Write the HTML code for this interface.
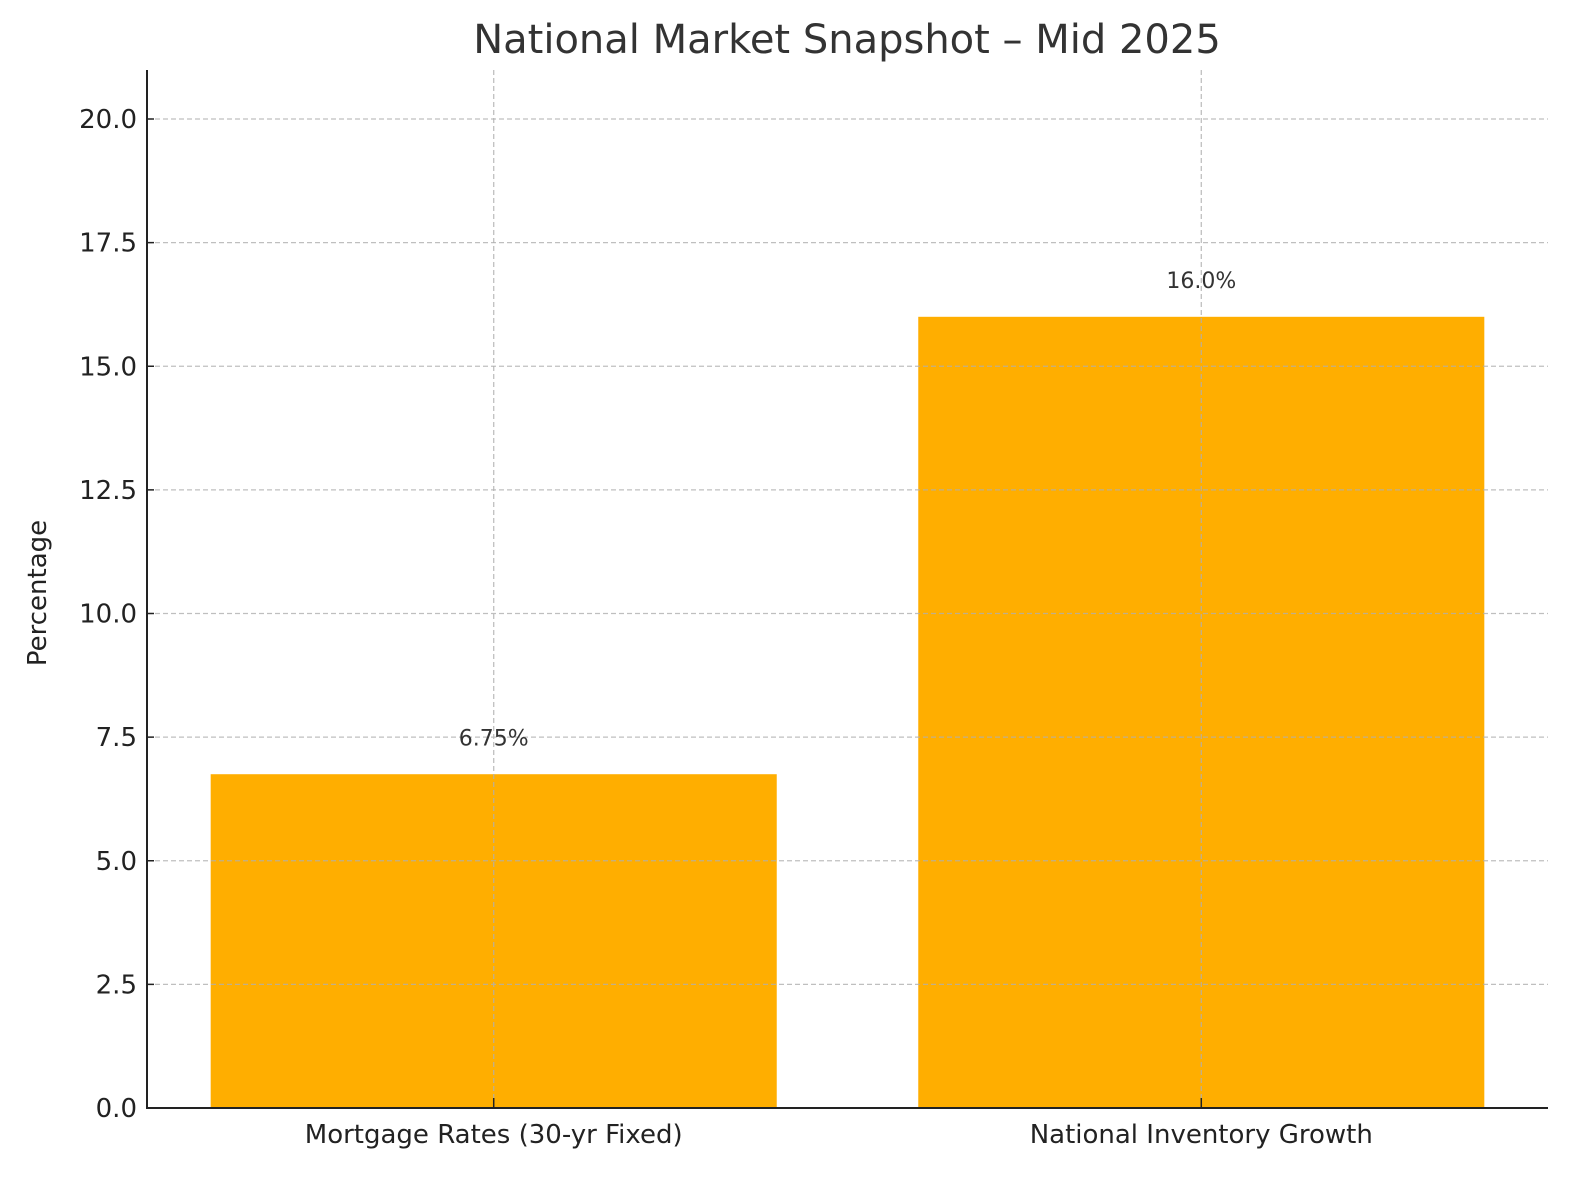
<!DOCTYPE html>
<html><head><meta charset="utf-8"><style>body{margin:0;background:#fff}svg{display:block;font-family:"DejaVu Sans","Liberation Sans",sans-serif}</style></head>
<body>
<svg id="chart" width="1580" height="1180" viewBox="0 0 1580 1180"></svg>
<script>
const categories = ["Mortgage Rates (30-yr Fixed)", "National Inventory Growth"];
const values = [6.75, 16.0];
const valueLabels = ["6.75%", "16.0%"];
const yTicks = [0, 2.5, 5, 7.5, 10, 12.5, 15, 17.5, 20];
const yTickLabels = ["0.0","2.5","5.0","7.5","10.0","12.5","15.0","17.5","20.0"];

const L=147,R=1548,B=1108,T=70;
const yMax=(B-T)/49.45;
const y=v=>B-v*(B-T)/yMax;
const xMin=-0.49,xMax=1.49;
const x=i=>L+(i-xMin)*(R-L)/(xMax-xMin);
const bw=0.8;
const svg=document.getElementById('chart');
const NS='http://www.w3.org/2000/svg';
function mk(tag,attrs,parent){const e=document.createElementNS(NS,tag);for(const k in attrs)e.setAttribute(k,attrs[k]);(parent||svg).appendChild(e);return e;}

// bars
values.forEach((v,i)=>{
  const r=mk('rect',{x:x(i-bw/2),y:y(v),width:x(i+bw/2)-x(i-bw/2),height:B-y(v),fill:'#ffae00'});
  
  
});
// grid
yTicks.forEach(t=>{
  const g=mk('line',{x1:L,x2:R,y1:y(t),y2:y(t),stroke:'#b0b0b0','stroke-width':1.3,'stroke-dasharray':'5,3',opacity:0.8});
  
  
});
categories.forEach((c,i)=>{
  const g=mk('line',{x1:x(i),x2:x(i),y1:T,y2:B,stroke:'#b0b0b0','stroke-width':1.3,'stroke-dasharray':'5,3',opacity:0.8});
  
  
});
// spines
const sl=mk('line',{x1:L,x2:L,y1:T,y2:B+1,stroke:'#222','stroke-width':2});


const sb=mk('line',{x1:L-1,x2:R,y1:B,y2:B,stroke:'#222','stroke-width':2});


// y ticks
yTicks.forEach((t,i)=>{
  mk('line',{x1:L,x2:L+7,y1:y(t),y2:y(t),stroke:'#222','stroke-width':1.5});
  const tx=mk('text',{x:L-10,y:y(t)+9,'text-anchor':'end','font-size':26,fill:'#222'});
  tx.textContent=yTickLabels[i];
  
  
});
// x ticks & labels
categories.forEach((c,i)=>{
  mk('line',{x1:x(i),x2:x(i),y1:B,y2:B-10,stroke:'#222','stroke-width':1.5});
  const tx=mk('text',{x:x(i),y:1143,'text-anchor':'middle','font-size':26,fill:'#222'});
  tx.textContent=c;
  
  
  const vl=mk('text',{x:x(i),y:y(values[i]+0.5)-4,'text-anchor':'middle','font-size':22,fill:'#333'});
  vl.textContent=valueLabels[i];
  
  
});
const yt=mk('text',{x:0,y:0,transform:'translate(46,593) rotate(-90)','text-anchor':'middle','font-size':26,fill:'#222'});
yt.textContent='Percentage';


const tt=mk('text',{x:847,y:53,'text-anchor':'middle','font-size':40,fill:'#333'});
tt.textContent='National Market Snapshot – Mid 2025';


</script>
</body></html>
